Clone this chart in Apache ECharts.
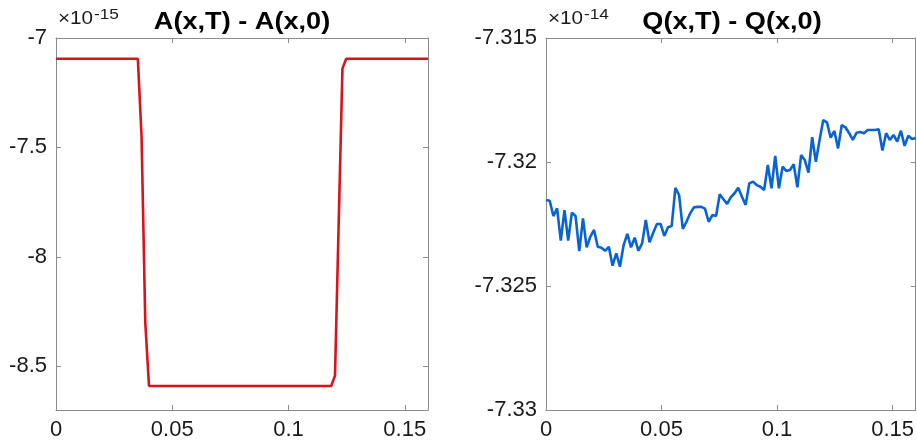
<!DOCTYPE html>
<html>
<head>
<meta charset="utf-8">
<script src="https://cdn.jsdelivr.net/npm/echarts@6/dist/echarts.min.js"></script>
<style>
html,body{margin:0;padding:0;background:#ffffff;}
#chart{width:917px;height:446px;}
</style>
</head>
<body>
<div id="chart"></div>
<script>
// ---- data ----
const xTicks = [0, 0.05, 0.1, 0.15];
const aTicks = [-8.5, -8, -7.5, -7];
const qTicks = [-7.33, -7.325, -7.32, -7.315];
// sample positions x = 0 ... 0.16 (step 0.0016, 101 samples)
const xSamples = Array.from({length: 101}, (_, i) => Math.round(i * 16) / 10000);

// A(x,T) - A(x,0), units of 1e-15
const aValues = [
  -7.095,-7.095,-7.095,-7.095,-7.095,-7.095,-7.095,-7.095,-7.095,-7.095,
  -7.095,-7.095,-7.095,-7.095,-7.095,-7.095,-7.095,-7.095,-7.095,-7.095,
  -7.095,-7.095,-7.095,-7.45,-8.3,-8.59,-8.59,-8.59,-8.59,-8.59,
  -8.59,-8.59,-8.59,-8.59,-8.59,-8.59,-8.59,-8.59,-8.59,-8.59,
  -8.59,-8.59,-8.59,-8.59,-8.59,-8.59,-8.59,-8.59,-8.59,-8.59,
  -8.59,-8.59,-8.59,-8.59,-8.59,-8.59,-8.59,-8.59,-8.59,-8.59,
  -8.59,-8.59,-8.59,-8.59,-8.59,-8.59,-8.59,-8.59,-8.59,-8.59,
  -8.59,-8.59,-8.59,-8.59,-8.59,-8.543,-7.84,-7.14,-7.095,-7.095,
  -7.095,-7.095,-7.095,-7.095,-7.095,-7.095,-7.095,-7.095,-7.095,-7.095,
  -7.095,-7.095,-7.095,-7.095,-7.095,-7.095,-7.095,-7.095,-7.095,-7.095,
  -7.095
];

// Q(x,T) - Q(x,0), units of 1e-14
const qValues = [
  -7.32153,-7.32156,-7.32218,-7.32187,-7.32317,-7.32194,-7.32317,-7.32204,-7.32218,-7.32359,
  -7.32227,-7.32344,-7.32301,-7.32274,-7.32342,-7.32346,-7.32358,-7.32342,-7.32418,-7.32368,
  -7.32422,-7.32335,-7.32290,-7.32344,-7.32305,-7.32358,-7.32328,-7.32234,-7.32324,-7.32285,
  -7.32250,-7.32250,-7.32298,-7.32263,-7.32258,-7.32104,-7.32133,-7.32270,-7.32241,-7.32207,
  -7.32183,-7.32181,-7.32181,-7.32188,-7.32241,-7.32214,-7.32218,-7.32130,-7.32150,-7.32169,
  -7.32142,-7.32126,-7.32104,-7.32140,-7.32173,-7.32086,-7.32079,-7.32093,-7.32100,-7.32113,
  -7.32012,-7.32106,-7.31975,-7.32106,-7.32019,-7.32036,-7.32032,-7.32009,-7.32102,-7.31972,
  -7.31992,-7.32043,-7.31900,-7.31999,-7.31911,-7.31831,-7.31840,-7.31902,-7.31875,-7.31945,
  -7.31851,-7.31860,-7.31884,-7.31911,-7.31882,-7.31879,-7.31884,-7.31871,-7.31871,-7.31871,
  -7.31868,-7.31954,-7.31884,-7.31911,-7.31891,-7.31918,-7.31874,-7.31935,-7.31894,-7.31907,
  -7.31903
];

const titles = ['A(x,T) - A(x,0)', 'Q(x,T) - Q(x,0)'];
const exponents = ['-15', '-14'];

// ---- chart ----
const axisColor = '#8c8c8c';
const fontFam = '"Liberation Sans", Arial, Helvetica, sans-serif';
const lbl = {fontFamily: fontFam, fontSize: 22, color: '#1a1a1a'};

function xAxis(grid, pos) {
  const bottom = pos === 'bottom';
  return {
    type: 'value', gridIndex: grid, position: pos, min: 0, max: 0.16,
    axisLine: {show: true, onZero: false, lineStyle: {color: axisColor, width: 1}},
    axisTick: {show: true, inside: true, length: 5, customValues: xTicks, lineStyle: {color: axisColor}},
    axisLabel: bottom ? Object.assign({show: true, margin: 9, customValues: xTicks,
      formatter: v => String(+v.toFixed(2))}, lbl) : {show: false},
    splitLine: {show: false}
  };
}
function yAxis(grid, pos, min, max, ticks, dec) {
  const left = pos === 'left';
  return {
    type: 'value', gridIndex: grid, position: pos, min: min, max: max,
    axisLine: {show: true, onZero: false, lineStyle: {color: axisColor, width: 1}},
    axisTick: {show: true, inside: true, length: 5, customValues: ticks, lineStyle: {color: axisColor}},
    axisLabel: left ? Object.assign({show: true, margin: 9, customValues: ticks,
      formatter: v => String(+v.toFixed(dec))}, lbl) : {show: false},
    splitLine: {show: false}
  };
}

const chart = echarts.init(document.getElementById('chart'), null, {renderer: 'canvas'});
const gridLefts = [56, 546];
const titleText = (i) => ({
  type: 'text', x: gridLefts[i] + 186, y: 23, scaleX: 1.18,
  style: {text: titles[i], font: 'bold 23px ' + fontFam, fill: '#000',
    textAlign: 'center', textVerticalAlign: 'middle', align: 'center', verticalAlign: 'middle'}
});
const timesText = (i) => ({
  type: 'text', x: gridLefts[i] + 2, y: 28, scaleX: 1.15,
  style: {text: '\u00d710', font: '18px ' + fontFam, fill: '#1a1a1a',
    textAlign: 'left', textVerticalAlign: 'bottom', align: 'left', verticalAlign: 'bottom'}
});
const expText = (i) => ({
  type: 'text', x: gridLefts[i] + 38, y: 22, scaleX: 1.15,
  style: {text: exponents[i], font: '15px ' + fontFam, fill: '#1a1a1a',
    textAlign: 'left', textVerticalAlign: 'bottom', align: 'left', verticalAlign: 'bottom'}
});

chart.setOption({
  animation: false,
  backgroundColor: '#ffffff',
  grid: [
    {left: 56, top: 38, width: 372, height: 372, containLabel: false},
    {left: 546, top: 38, width: 372, height: 372, containLabel: false}
  ],
  xAxis: [xAxis(0, 'bottom'), xAxis(0, 'top'), xAxis(1, 'bottom'), xAxis(1, 'top')],
  yAxis: [
    yAxis(0, 'left', -8.7, -7, aTicks, 1), yAxis(0, 'right', -8.7, -7, aTicks, 1),
    yAxis(1, 'left', -7.33, -7.315, qTicks, 3), yAxis(1, 'right', -7.33, -7.315, qTicks, 3)
  ],
  series: [
    {type: 'line', xAxisIndex: 0, yAxisIndex: 0, symbol: 'none',
      data: aValues.map((v, i) => [xSamples[i], v]),
      lineStyle: {color: '#d7141a', width: 2.6}},
    {type: 'line', xAxisIndex: 2, yAxisIndex: 2, symbol: 'none',
      data: qValues.map((v, i) => [xSamples[i], v]),
      lineStyle: {color: '#0a63d2', width: 2.6}}
  ],
  graphic: [titleText(0), titleText(1), timesText(0), timesText(1), expText(0), expText(1)]
});
</script>
</body>
</html>
